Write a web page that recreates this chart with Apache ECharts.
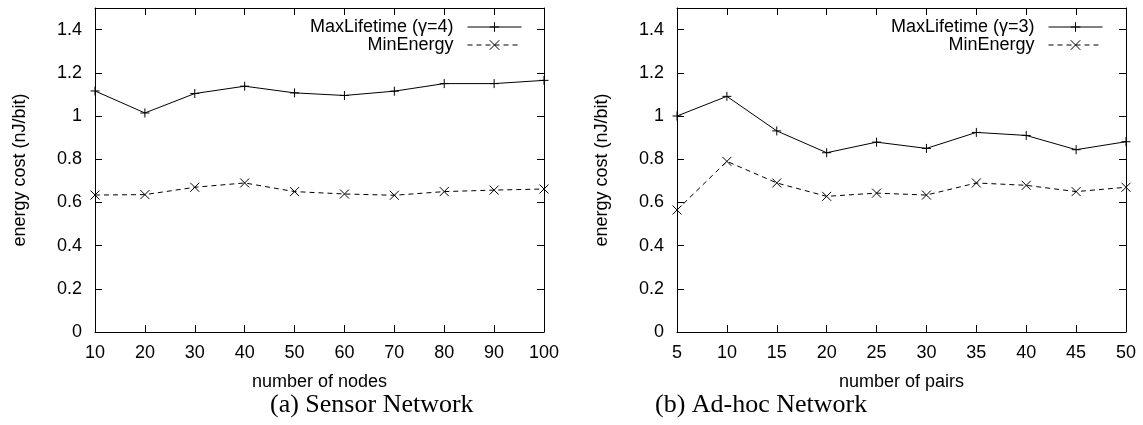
<!DOCTYPE html>
<html>
<head>
<meta charset="utf-8">
<script src="https://cdn.jsdelivr.net/npm/echarts@6/dist/echarts.min.js"></script>
<style>html,body{margin:0;padding:0;background:#fff;}#c{width:1143px;height:425px;}</style>
</head>
<body>
<div id="c"></div>
<script>
// ---- data ----
var nodesX = [10, 20, 30, 40, 50, 60, 70, 80, 90, 100];
var sensorMaxLifetime = [1.116, 1.014, 1.104, 1.138, 1.107, 1.095, 1.115, 1.150, 1.150, 1.165];
var sensorMinEnergy   = [0.634, 0.636, 0.670, 0.690, 0.650, 0.639, 0.633, 0.650, 0.657, 0.662];
var pairsX = [5, 10, 15, 20, 25, 30, 35, 40, 45, 50];
var adhocMaxLifetime = [1.000, 1.091, 0.931, 0.830, 0.879, 0.850, 0.924, 0.910, 0.844, 0.881];
var adhocMinEnergy   = [0.565, 0.790, 0.690, 0.628, 0.643, 0.634, 0.690, 0.679, 0.650, 0.670];
var nameMax1 = 'MaxLifetime (\u03b3=4)';
var nameMax2 = 'MaxLifetime (\u03b3=3)';
var nameMin = 'MinEnergy';
var captions = ['(a) Sensor Network', '(b) Ad-hoc Network'];

function pairs(xs, ys) { return xs.map(function (x, i) { return [x, ys[i]]; }); }

var FONT = 'Liberation Sans';
var FS = 18;
var plusSym = 'path://M0,5L10,5M5,0L5,10';
var crossSym = 'path://M0,0L10,10M10,0L0,10';

function xAxes(gi, min, max, step, title) {
  return [
    { type: 'value', gridIndex: gi, position: 'bottom', min: min, max: max, interval: step,
      name: title, nameLocation: 'middle', nameGap: 41,
      nameTextStyle: { fontFamily: FONT, fontSize: FS, color: '#000' },
      axisLine: { show: true, onZero: false, lineStyle: { color: '#000', width: 1 } },
      axisTick: { show: true, inside: true, length: 7, lineStyle: { color: '#000' } },
      axisLabel: { fontFamily: FONT, fontSize: FS, color: '#000', margin: 12 },
      splitLine: { show: false } },
    { type: 'value', gridIndex: gi, position: 'top', min: min, max: max, interval: step,
      axisLine: { show: true, onZero: false, lineStyle: { color: '#000', width: 1 } },
      axisTick: { show: true, inside: true, length: 7, lineStyle: { color: '#000' } },
      axisLabel: { show: false }, splitLine: { show: false } }
  ];
}
function yAxes(gi) {
  return [
    { type: 'value', gridIndex: gi, position: 'left', min: 0, max: 1.5, interval: 0.2,
      name: 'energy cost (nJ/bit)', nameLocation: 'middle', nameGap: 66,
      nameTextStyle: { fontFamily: FONT, fontSize: FS, color: '#000' },
      axisLine: { show: true, onZero: false, lineStyle: { color: '#000', width: 1 } },
      axisTick: { show: true, inside: true, length: 7, lineStyle: { color: '#000' } },
      axisLabel: { fontFamily: FONT, fontSize: FS, color: '#000', margin: 13, showMaxLabel: false },
      splitLine: { show: false } },
    { type: 'value', gridIndex: gi, position: 'right', min: 0, max: 1.5, interval: 0.2,
      axisLine: { show: true, onZero: false, lineStyle: { color: '#000', width: 1 } },
      axisTick: { show: true, inside: true, length: 7, lineStyle: { color: '#000' } },
      axisLabel: { show: false }, splitLine: { show: false } }
  ];
}
function lineSeries(name, data, xi, yi, dashed) {
  return {
    type: 'line', name: name, data: data, xAxisIndex: xi, yAxisIndex: yi,
    symbol: dashed ? crossSym : plusSym, symbolSize: 9, showAllSymbol: true,
    lineStyle: { color: '#000', width: 1, type: dashed ? [5, 4] : 'solid' },
    itemStyle: { color: '#000', borderColor: '#000', borderWidth: 1 },
    animation: false, z: 3
  };
}
function legendFor(rightPx, names) {
  return {
    orient: 'vertical', right: rightPx, top: 18, align: 'right', padding: 0,
    itemWidth: 54, itemHeight: 12, itemGap: 0, selectedMode: false,
    itemStyle: { color: '#000', borderColor: '#000', borderWidth: 1 },
    lineStyle: { color: '#000', width: 1 },
    textStyle: { fontFamily: FONT, fontSize: FS, color: '#000', lineHeight: 17, padding: [0, 9, 0, 0] },
    data: names
  };
}

var chart = echarts.init(document.getElementById('c'), null, { renderer: 'canvas' });
chart.setOption({
  backgroundColor: '#fff',
  animation: false,
  title: [
    { text: captions[0], left: 270, top: 392, padding: 0,
      textStyle: { fontFamily: 'Liberation Serif', fontSize: 26, fontWeight: 'normal', color: '#000' } },
    { text: captions[1], left: 655, top: 392, padding: 0,
      textStyle: { fontFamily: 'Liberation Serif', fontSize: 26, fontWeight: 'normal', color: '#000' } }
  ],
  legend: [
    legendFor(1143 - 522, [nameMax1, nameMin]),
    legendFor(1143 - 1103, [nameMax2, nameMin])
  ],
  grid: [
    { left: 95, top: 8, width: 449, height: 324 },
    { left: 677, top: 8, width: 449, height: 324 }
  ],
  xAxis: xAxes(0, 10, 100, 10, 'number of nodes').concat(xAxes(1, 5, 50, 5, 'number of pairs')),
  yAxis: yAxes(0).concat(yAxes(1)),
  series: [
    lineSeries(nameMax1, pairs(nodesX, sensorMaxLifetime), 0, 0, false),
    lineSeries(nameMin, pairs(nodesX, sensorMinEnergy), 0, 0, true),
    lineSeries(nameMax2, pairs(pairsX, adhocMaxLifetime), 2, 2, false),
    lineSeries(nameMin, pairs(pairsX, adhocMinEnergy), 2, 2, true)
  ]
});
</script>
</body>
</html>
